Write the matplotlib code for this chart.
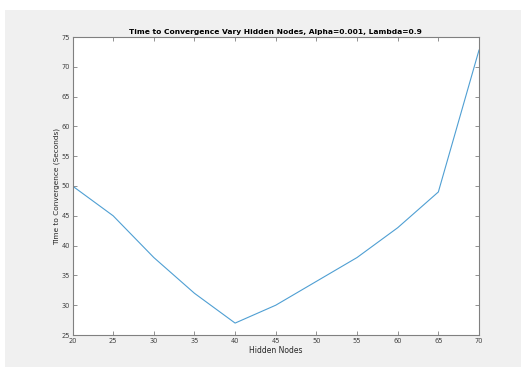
import matplotlib
matplotlib.use("Agg")
import matplotlib.pyplot as plt
from matplotlib.patches import Rectangle

hidden_nodes = [20, 25, 30, 35, 40, 45, 50, 55, 60, 65, 70]
conv_time = [50, 45, 38, 32, 27, 30, 34, 38, 43, 49, 72.8]

fig = plt.figure(figsize=(5.21, 3.67), dpi=100, facecolor='#f0f0f0')
# white strips at top and left of the screenshot
fig.patches.append(Rectangle((0, 1 - 10 / 367), 1, 10 / 367, transform=fig.transFigure,
                             facecolor='white', edgecolor='none', zorder=-1))
fig.patches.append(Rectangle((0, 0), 5 / 521, 1, transform=fig.transFigure,
                             facecolor='white', edgecolor='none', zorder=-1))

ax = fig.add_axes([72.5 / 521, 32 / 367, (479 - 72.5) / 521, (335 - 37) / 367])
ax.plot(hidden_nodes, conv_time, color='#4f9fd3', linewidth=0.8)

ax.set_xlim(20, 70)
ax.set_ylim(25, 75)
ax.set_xticks(range(20, 71, 5))
ax.set_yticks(range(25, 76, 5))
ax.tick_params(direction='in', top=True, right=True, length=3, width=0.6,
               colors='#808080', labelcolor='#404040', labelsize=4.8, pad=2)
for s in ax.spines.values():
    s.set_color('#808080')
    s.set_linewidth(0.8)

ax.set_xlabel('Hidden Nodes', fontsize=5.5, color='#262626', labelpad=1.5)
ax.set_ylabel('Time to Convergence (Seconds)', fontsize=5.3, color='#262626', labelpad=1)
ax.set_title('Time to Convergence Vary Hidden Nodes, Alpha=0.001, Lambda=0.9',
             fontsize=5.4, fontweight='bold', color='black', pad=2.5)

fig.savefig('out.png', dpi=100, facecolor=fig.get_facecolor())
